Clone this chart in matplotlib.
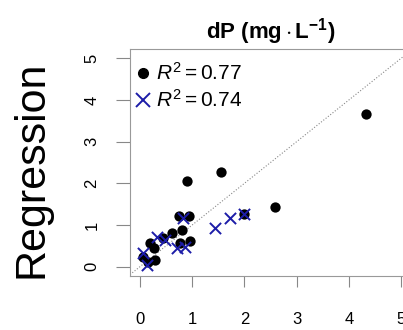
import numpy as np
import matplotlib
matplotlib.use("Agg")
import matplotlib.pyplot as plt
from matplotlib.lines import Line2D

plt.rcParams['font.family'] = ['Liberation Sans', 'DejaVu Sans']
plt.rcParams['mathtext.fontset'] = 'custom'
plt.rcParams['mathtext.rm'] = 'Liberation Sans'
plt.rcParams['mathtext.it'] = 'Liberation Sans:italic'
plt.rcParams['mathtext.bf'] = 'Liberation Sans:bold'

# black circles (first model)
x_dot = [4.33, 1.55, 0.91, 2.59, 2.00, 0.75, 0.94, 0.80, 0.61, 0.45, 0.77, 0.96,
         0.20, 0.26, 0.06, 0.29, 0.16]
y_dot = [3.66, 2.26, 2.06, 1.44, 1.26, 1.22, 1.22, 0.88, 0.80, 0.68, 0.56, 0.62,
         0.56, 0.44, 0.24, 0.16, 0.12]
# blue crosses (second model)
x_cross = [2.00, 1.72, 1.44, 0.83, 0.32, 0.48, 0.70, 0.86, 0.06, 0.13]
y_cross = [1.26, 1.16, 0.94, 1.16, 0.72, 0.64, 0.44, 0.48, 0.32, 0.04]
r2_labels = [r"$R^2 = 0.77$", r"$R^2 = 0.74$"]
ticks = [0, 1, 2, 3, 4, 5]

cross_col = "#1c1ca8"

fig = plt.figure(figsize=(4.03, 3.30), dpi=100)
ax = fig.add_axes([0.3226, 0.1645, 0.6977, 0.687])

ax.axline((0, 0), slope=1, color="#888888", ls=":", lw=0.8, zorder=1)
ax.scatter(x_dot, y_dot, s=55, c="black", marker="o", lw=0, zorder=2)
ax.scatter(x_cross, y_cross, s=65, c=cross_col, marker="x", lw=1.4, zorder=3)

ax.set_xlim(-0.19, 5.19)
ax.set_ylim(-0.216, 5.22)
ax.set_xticks(ticks)
ax.set_yticks(ticks)
ax.set_yticklabels([str(t) for t in ticks], rotation=90, va="center")
ax.tick_params(axis="x", length=8, width=0.8, color="#888888", pad=18, labelsize=12)
ax.tick_params(axis="y", length=10, width=0.8, color="#888888", pad=12, labelsize=12)
for sp in ax.spines.values():
    sp.set_color("#999999")
    sp.set_linewidth(0.8)

handles = [Line2D([], [], ls="none", marker="o", color="black", markersize=7),
           Line2D([], [], ls="none", marker="x", color=cross_col, markersize=10, mew=1.4)]
ax.legend(handles, r2_labels, loc="upper left", bbox_to_anchor=(0, 0.96), frameon=False,
          fontsize=15, handlelength=0.8, handletextpad=0.25, labelspacing=0.25,
          borderaxespad=0, borderpad=0.2)

fig.text(271 / 403, 1 - 32 / 330, r"$\mathbf{dP\ (mg \cdot L^{-1})}$", ha="center", va="center",
         fontsize=16)
fig.text(32 / 403, 1 - 169 / 330, "Regression", rotation=90, ha="center", va="center",
         fontsize=31)

fig.savefig("out.png", dpi=100)
